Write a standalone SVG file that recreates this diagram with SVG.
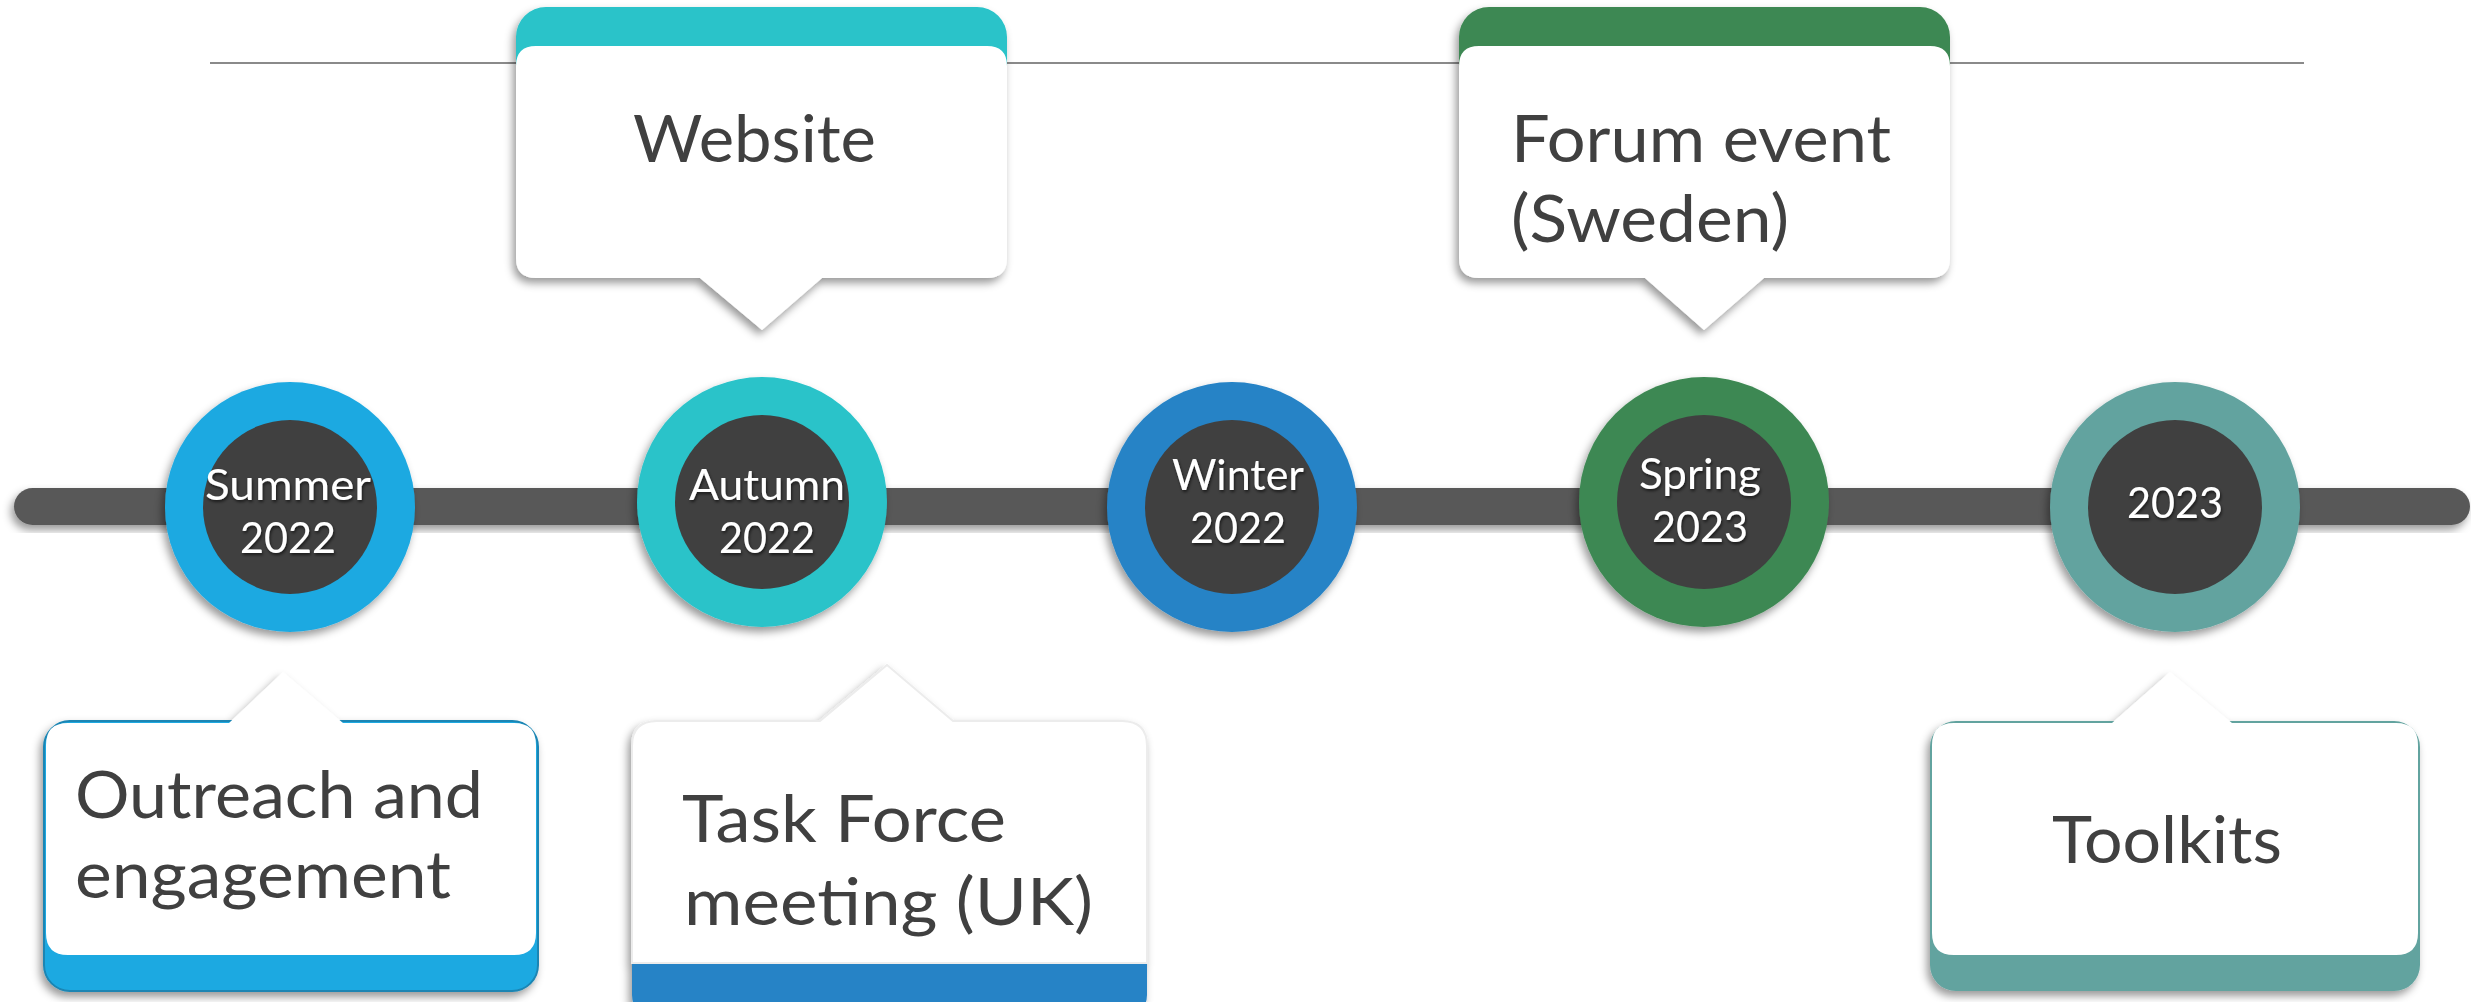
<svg xmlns="http://www.w3.org/2000/svg" width="2471" height="1002" viewBox="0 0 2471 1002">
<style>
.lbl{font-family:Lato,"Open Sans","Liberation Sans",sans-serif;font-size:43px;fill:#ffffff;text-anchor:middle}
.big{font-family:Lato,"Open Sans","Liberation Sans",sans-serif;font-size:66px;fill:#404040}
.inner{fill:#404040}
.card{fill:#ffffff}
</style>
<defs>
<filter id="sh" x="-10%" y="-10%" width="120%" height="130%">
<feDropShadow dx="-3" dy="5" stdDeviation="4" flood-color="#000" flood-opacity="0.4"/>
</filter>
<filter id="tsh" x="-10%" y="-10%" width="120%" height="130%">
<feDropShadow dx="1" dy="2" stdDeviation="1.5" flood-color="#000" flood-opacity="0.6"/>
</filter>
</defs>
<rect width="2471" height="1002" fill="#ffffff"/>
<g id="connectors">
<line x1="210" y1="63" x2="2304" y2="63" stroke="#8a8a8a" stroke-width="2"/>
<rect x="14" y="488" width="2456" height="37" rx="18.5" fill="#595959" filter="url(#sh)"/>
</g>
<g id="callout-website" filter="url(#sh)">
<rect x="516" y="7" width="491" height="90" rx="30" fill="#29C3C9"/>
<path class="card" d="M536,46 H987 Q1007,46 1007,66 V258 Q1007,278 987,278 H822 L762,330 L700,278 H536 Q516,278 516,258 V66 Q516,46 536,46 Z"/>
<text class="big" x="633" y="162" textLength="243" lengthAdjust="spacingAndGlyphs">Website</text>
</g>
<g id="callout-forum" filter="url(#sh)">
<rect x="1459" y="7" width="491" height="90" rx="30" fill="#3E8853"/>
<path class="card" d="M1479,46 H1930 Q1950,46 1950,66 V258 Q1950,278 1930,278 H1764 L1704,330 L1645,278 H1479 Q1459,278 1459,258 V66 Q1459,46 1479,46 Z"/>
<text class="big" x="1511" y="162" textLength="380" lengthAdjust="spacingAndGlyphs">Forum event</text>
<text class="big" x="1511" y="242" textLength="278" lengthAdjust="spacingAndGlyphs">(Sweden)</text>
</g>
<g id="callout-outreach" filter="url(#sh)">
<rect x="44" y="721" width="494" height="270" rx="26" fill="#1EA9E1" stroke="#1A85B3" stroke-width="2"/>
<path class="card" d="M68,723 H229 L283,672 L343,723 H514 Q536,723 536,745 V933 Q536,955 514,955 H68 Q46,955 46,933 V745 Q46,723 68,723 Z"/>
<text class="big" x="75" y="818" textLength="408" lengthAdjust="spacingAndGlyphs">Outreach and</text>
<text class="big" x="75" y="898" textLength="376" lengthAdjust="spacingAndGlyphs">engagement</text>
</g>
<g id="callout-taskforce" filter="url(#sh)">
<rect x="632" y="721" width="515" height="300" rx="26" fill="#2683C6"/>
<path class="card" stroke="#ececec" stroke-width="2" d="M657,721 H820 L887,665 L953,721 H1122 Q1147,721 1147,746 V963 H632 V746 Q632,721 657,721 Z"/>
<text class="big" x="682" y="842" textLength="324" lengthAdjust="spacingAndGlyphs">Task Force</text>
<text class="big" x="684" y="925" textLength="409" lengthAdjust="spacingAndGlyphs">meeting (UK)</text>
</g>
<g id="callout-toolkits" filter="url(#sh)">
<rect x="1930" y="721" width="490" height="270" rx="26" fill="#62A39F"/>
<path class="card" d="M1954,723 H2112 L2170,672 L2232,723 H2396 Q2418,723 2418,745 V933 Q2418,955 2396,955 H1954 Q1932,955 1932,933 V745 Q1932,723 1954,723 Z"/>
<text class="big" x="2052" y="863" textLength="230" lengthAdjust="spacingAndGlyphs">Toolkits</text>
</g>
<g id="node-summer-2022">
<circle cx="290" cy="507" r="125" fill="#1EA9E1" filter="url(#sh)"/>
<circle class="inner" cx="290" cy="507" r="87"/>
<text class="lbl" filter="url(#tsh)"><tspan x="288" y="500" textLength="166" lengthAdjust="spacingAndGlyphs">Summer</tspan><tspan x="288" y="553" textLength="96" lengthAdjust="spacingAndGlyphs">2022</tspan></text>
</g>
<g id="node-autumn-2022">
<circle cx="762" cy="502" r="125" fill="#29C3C9" filter="url(#sh)"/>
<circle class="inner" cx="762" cy="502" r="87"/>
<text class="lbl" filter="url(#tsh)"><tspan x="767" y="500" textLength="156" lengthAdjust="spacingAndGlyphs">Autumn</tspan><tspan x="767" y="553" textLength="96" lengthAdjust="spacingAndGlyphs">2022</tspan></text>
</g>
<g id="node-winter-2022">
<circle cx="1232" cy="507" r="125" fill="#2683C6" filter="url(#sh)"/>
<circle class="inner" cx="1232" cy="507" r="87"/>
<text class="lbl" filter="url(#tsh)"><tspan x="1238" y="490" textLength="132" lengthAdjust="spacingAndGlyphs">Winter</tspan><tspan x="1238" y="543" textLength="96" lengthAdjust="spacingAndGlyphs">2022</tspan></text>
</g>
<g id="node-spring-2023">
<circle cx="1704" cy="502" r="125" fill="#3E8853" filter="url(#sh)"/>
<circle class="inner" cx="1704" cy="502" r="87"/>
<text class="lbl" filter="url(#tsh)"><tspan x="1700" y="489" textLength="122" lengthAdjust="spacingAndGlyphs">Spring</tspan><tspan x="1700" y="542" textLength="96" lengthAdjust="spacingAndGlyphs">2023</tspan></text>
</g>
<g id="node-2023">
<circle cx="2175" cy="507" r="125" fill="#62A39F" filter="url(#sh)"/>
<circle class="inner" cx="2175" cy="507" r="87"/>
<text class="lbl" filter="url(#tsh)" x="2175" y="518" textLength="96" lengthAdjust="spacingAndGlyphs">2023</text>
</g>
</svg>
